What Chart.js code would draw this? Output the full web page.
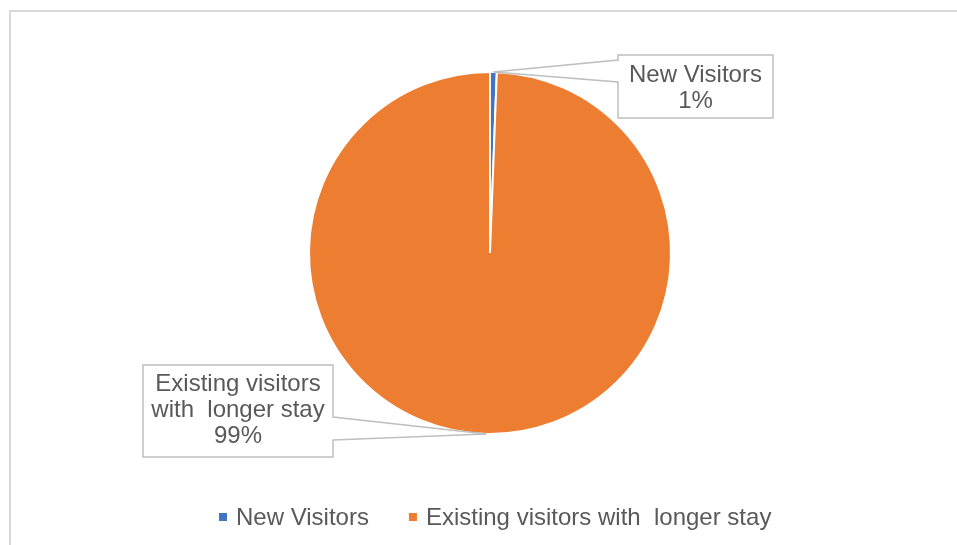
<!DOCTYPE html>
<html>
<head>
<meta charset="utf-8">
<script src="https://cdn.jsdelivr.net/npm/chart.js@4.4.1/dist/chart.umd.min.js"></script>
<style>
    html, body { margin: 0; padding: 0; background: #fff; }
    #wrap { width: 957px; height: 545px; }
</style>
</head>
<body>
<div id="wrap"><canvas id="pie" width="957" height="545"></canvas></div>
<script>
        // visitor split
        const categories = ['New Visitors', 'Existing visitors with  longer stay'];
        const shares = [0.6, 99.4];
        const sliceColors = ['#4472C4', '#ED7D31'];
        // how the callout text breaks into lines
        const calloutLines = [['New Visitors'], ['Existing visitors', 'with  longer stay']];

        const textColor = '#595959';
        const fontFamily = '"Liberation Sans", Arial, sans-serif';
        const fontSize = 24;

        // callout boxes: left, top, right, bottom, and where the pointer leaves the box
        const boxes = [
            { l: 618, t: 55, r: 773, b: 118, side: 'left', p1: 60, p2: 82, firstLine: 75 },
            { l: 143, t: 365, r: 333, b: 457, side: 'right', p1: 417, p2: 440, firstLine: 384 }
        ];

        // thin grey frame at top and left
        const framePlugin = {
            id: 'frame',
            beforeDraw(chart) {
                const c = chart.ctx;
                c.save();
                c.strokeStyle = '#d9d9d9';
                c.lineWidth = 2;
                c.beginPath();
                c.moveTo(10, 545);
                c.lineTo(10, 11);
                c.lineTo(957, 11);
                c.stroke();
                c.restore();
            }
        };

        // data label callouts pointing at each slice
        const calloutPlugin = {
            id: 'callouts',
            afterDatasetsDraw(chart) {
                const c = chart.ctx;
                const meta = chart.getDatasetMeta(0);
                const data = chart.data.datasets[0].data;
                const total = data.reduce((a, b) => a + b, 0);
                c.save();
                meta.data.forEach((arc, i) => {
                    const bx = boxes[i];
                    const mid = (arc.startAngle + arc.endAngle) / 2;
                    const ax = arc.x + Math.cos(mid) * arc.outerRadius;
                    const ay = arc.y + Math.sin(mid) * arc.outerRadius;
                    c.beginPath();
                    if (bx.side === 'left') {
                        c.moveTo(bx.l, bx.t);
                        c.lineTo(bx.r, bx.t);
                        c.lineTo(bx.r, bx.b);
                        c.lineTo(bx.l, bx.b);
                        c.lineTo(bx.l, bx.p2);
                        c.lineTo(ax, ay);
                        c.lineTo(bx.l, bx.p1);
                    } else {
                        c.moveTo(bx.l, bx.t);
                        c.lineTo(bx.r, bx.t);
                        c.lineTo(bx.r, bx.p1);
                        c.lineTo(ax, ay);
                        c.lineTo(bx.r, bx.p2);
                        c.lineTo(bx.r, bx.b);
                        c.lineTo(bx.l, bx.b);
                    }
                    c.closePath();
                    c.fillStyle = '#ffffff';
                    c.fill();
                    c.strokeStyle = '#bfbfbf';
                    c.lineWidth = 1.5;
                    c.stroke();

                    const lines = calloutLines[i].concat([Math.round(data[i] / total * 100) + '%']);
                    c.fillStyle = textColor;
                    c.font = fontSize + 'px ' + fontFamily;
                    c.textAlign = 'center';
                    c.textBaseline = 'middle';
                    const cx = (bx.l + bx.r) / 2;
                    lines.forEach((s, k) => c.fillText(s, cx, bx.firstLine + k * 26));
                });
                c.restore();
            }
        };

        // legend row under the pie
        const legendPlugin = {
            id: 'bottomLegend',
            afterDraw(chart) {
                const c = chart.ctx;
                c.save();
                c.font = fontSize + 'px ' + fontFamily;
                const sq = 8, gap = 9, between = 40;
                let x = 219;
                const y = 517;
                c.textAlign = 'left';
                c.textBaseline = 'middle';
                chart.data.labels.forEach((t, i) => {
                    c.fillStyle = chart.data.datasets[0].backgroundColor[i];
                    c.fillRect(x, y - sq / 2, sq, sq);
                    c.fillStyle = textColor;
                    c.fillText(t, x + sq + gap, y + 1);
                    x += sq + gap + c.measureText(t).width + between;
                });
                c.restore();
            }
        };

        const cfg = {
            type: 'pie',
            data: {
                labels: categories,
                datasets: [{
                    data: shares,
                    backgroundColor: sliceColors,
                    borderColor: '#ffffff',
                    borderWidth: 2
                }]
            },
            options: {
                responsive: false,
                animation: false,
                radius: 181,
                layout: {
                    padding: { top: 72, bottom: 111, left: 23, right: 0 }
                },
                plugins: {
                    legend: { display: false },
                    tooltip: { enabled: false }
                }
            },
            plugins: [framePlugin, calloutPlugin, legendPlugin]
        };

        const pieChart = new Chart(document.getElementById('pie'), cfg);
</script>
</body>
</html>
